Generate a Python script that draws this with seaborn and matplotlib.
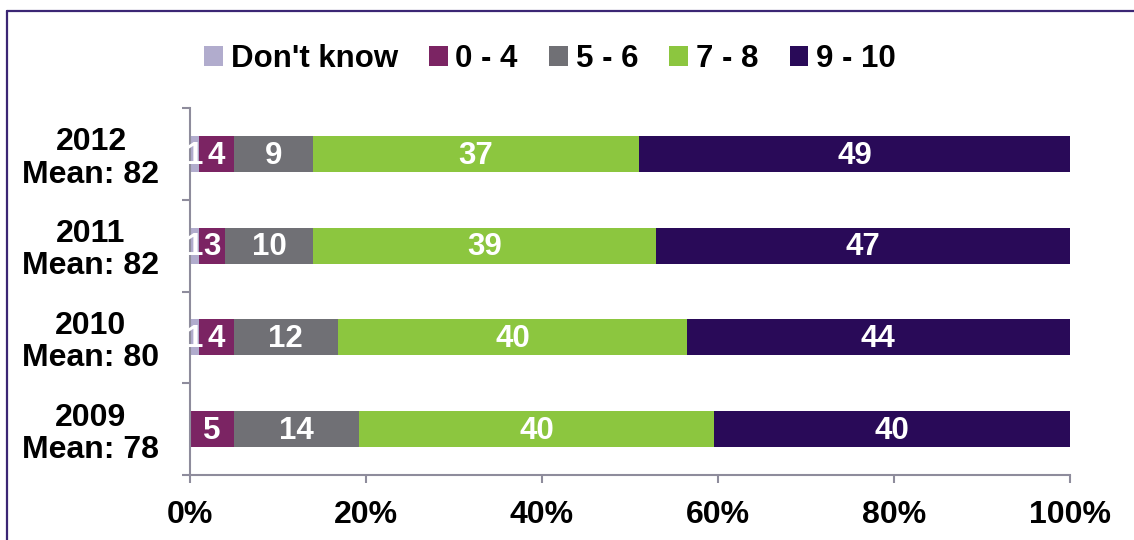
import numpy as np
import pandas as pd
import seaborn as sns
import matplotlib.pyplot as plt
from matplotlib.patches import Patch
from matplotlib.lines import Line2D

sns.set_style("white")
plt.rcParams["font.family"] = ["Liberation Sans", "DejaVu Sans"]
plt.rcParams["font.weight"] = "bold"
plt.rcParams["text.color"] = "black"
plt.rcParams["xtick.labelcolor"] = "black"
plt.rcParams["ytick.labelcolor"] = "black"

# Survey scores by year (raw percentages as reported)
years = ["2012", "2011", "2010", "2009"]
means = [82, 82, 80, 78]
bands = ["Don't know", "0 - 4", "5 - 6", "7 - 8", "9 - 10"]
dont_know = [1, 1, 1, 0]
score_0_4 = [4, 3, 4, 5]
score_5_6 = [9, 10, 12, 14]
score_7_8 = [37, 39, 40, 40]
score_9_10 = [49, 47, 44, 40]
colors = ["#B1ACCD", "#7B2463", "#707075", "#8CC63F", "#290A58"]
xticks = [0, 20, 40, 60, 80, 100]

raw = np.array([dont_know, score_0_4, score_5_6, score_7_8, score_9_10], dtype=float)
share = raw / raw.sum(axis=0) * 100
ends = np.cumsum(share, axis=0)
starts = ends - share

labels = [f"{y}\nMean: {m}" for y, m in zip(years, means)]

fig = plt.figure(figsize=(11.34, 5.4), dpi=100)
ax = fig.add_axes([190 / 1134, 65 / 540, 880 / 1134, 367 / 540])

# Stacked bars: draw cumulative totals from the outermost band inwards
for i in range(len(bands) - 1, -1, -1):
    df = pd.DataFrame({"year": labels, "end": ends[i]})
    sns.barplot(data=df, y="year", x="end", orient="h", color=colors[i],
                width=0.39, saturation=1, ax=ax, linewidth=0)

for i in range(len(bands)):
    for j in range(len(years)):
        if raw[i, j] > 0:
            ax.text(starts[i, j] + share[i, j] / 2, j + 0.02, f"{int(raw[i, j])}",
                    ha="center", va="center", color="white",
                    fontsize=22.5, fontweight="bold")

ax.set_xlim(0, 100)
ax.set_ylim(3.5, -0.5)
ax.set_xlabel("")
ax.set_ylabel("")
ax.set_xticks(xticks)
ax.set_xticklabels([f"{t}%" for t in xticks], fontsize=23, fontweight="bold")
ax.set_yticks(range(len(years)))
ax.set_yticklabels(labels, fontsize=23, fontweight="bold",
                   multialignment="center", linespacing=1.1)
ax.set_yticks(np.arange(-0.5, len(years), 1), minor=True)

axis_col = "#8E8C9C"
for side in ["top", "right"]:
    ax.spines[side].set_visible(False)
for side in ["left", "bottom"]:
    ax.spines[side].set_color(axis_col)
    ax.spines[side].set_linewidth(1.5)

ax.tick_params(axis="y", which="major", length=0, pad=22)
ax.tick_params(axis="y", which="minor", length=6, width=1.5, color=axis_col,
               direction="out", left=True)
ax.tick_params(axis="x", which="major", length=6, width=1.5, color=axis_col,
               direction="out", bottom=True, pad=12)

handles = [Patch(facecolor=c, edgecolor="none") for c in colors]
leg = fig.legend(handles, bands, loc="center", bbox_to_anchor=(0.485, 0.89),
                 ncol=5, frameon=False, handlelength=0.6,
                 handleheight=0.6, handletextpad=0.25, columnspacing=1.0,
                 prop={"weight": "bold", "size": 22.5})

# Outer frame
frame_col = "#3B2674"
fig.add_artist(Line2D([7 / 1134, 1.01], [1 - 11 / 540, 1 - 11 / 540],
                      transform=fig.transFigure, color=frame_col, lw=1.6))
fig.add_artist(Line2D([7 / 1134, 7 / 1134], [1 - 11 / 540, -0.01],
                      transform=fig.transFigure, color=frame_col, lw=1.6))

fig.savefig("out.png", dpi=100)
